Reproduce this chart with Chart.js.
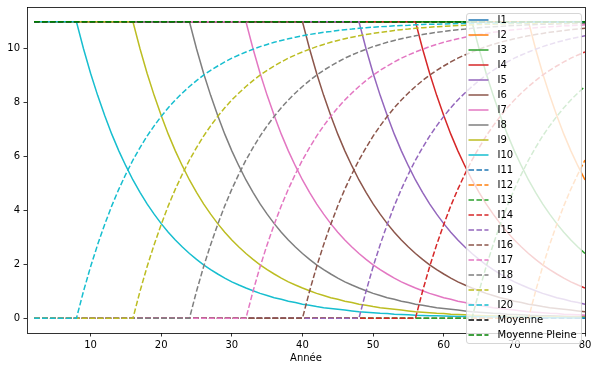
<!DOCTYPE html>
<html>
<head>
<meta charset="utf-8">
<script src="https://cdn.jsdelivr.net/npm/chart.js@4.4.0/dist/chart.umd.min.js"></script>
<style>
  html, body { margin: 0; padding: 0; background: #fff; }
  #wrap { width: 598px; height: 371px; }
</style>
</head>
<body>
<div id="wrap"><canvas id="chart" width="598" height="371"></canvas></div>
<script>
// Years on the x axis
const years = [2, 3, 4, 5, 6, 7, 8, 9, 10, 11, 12, 13, 14, 15, 16, 17, 18, 19, 20, 21,
  22, 23, 24, 25, 26, 27, 28, 29, 30, 31, 32, 33, 34, 35, 36, 37, 38, 39, 40, 41,
  42, 43, 44, 45, 46, 47, 48, 49, 50, 51, 52, 53, 54, 55, 56, 57, 58, 59, 60, 61,
  62, 63, 64, 65, 66, 67, 68, 69, 70, 71, 72, 73, 74, 75, 76, 77, 78, 79, 80];

// Year at which each curve leaves its plateau (I1..I10, and I11..I20)
const solidStarts = [80, 72, 64, 56, 48, 40, 32, 24, 16, 8];
const dashedStarts = [80, 72, 64, 56, 48, 40, 32, 24, 16, 8];

// Value, by number of years after the start
const decayProfile = [11.00, 10.00, 9.09, 8.27, 7.52, 6.83, 6.21, 5.65, 5.13, 4.67,
  4.24, 3.86, 3.51, 3.19, 2.90, 2.64, 2.40, 2.18, 1.98, 1.80,
  1.64, 1.49, 1.35, 1.23, 1.12, 1.02, 0.92, 0.84, 0.76, 0.70,
  0.63, 0.58, 0.52, 0.48, 0.43, 0.39, 0.36, 0.33, 0.30, 0.27,
  0.24, 0.22, 0.20, 0.18, 0.17, 0.15, 0.14, 0.13, 0.11, 0.10,
  0.09, 0.09, 0.08, 0.07, 0.06, 0.06, 0.05, 0.05, 0.04, 0.04,
  0.04, 0.03, 0.03, 0.03, 0.03, 0.02, 0.02, 0.02, 0.02, 0.02,
  0.01, 0.01, 0.01];
const riseProfile = [0.00, 1.00, 1.91, 2.73, 3.48, 4.17, 4.79, 5.35, 5.87, 6.33,
  6.76, 7.14, 7.49, 7.81, 8.10, 8.36, 8.60, 8.82, 9.02, 9.20,
  9.36, 9.51, 9.65, 9.77, 9.88, 9.98, 10.08, 10.16, 10.24, 10.31,
  10.37, 10.43, 10.48, 10.53, 10.57, 10.61, 10.64, 10.68, 10.71, 10.73,
  10.76, 10.78, 10.80, 10.82, 10.83, 10.85, 10.86, 10.87, 10.89, 10.90,
  10.91, 10.91, 10.92, 10.93, 10.94, 10.94, 10.95, 10.95, 10.96, 10.96,
  10.96, 10.97, 10.97, 10.97, 10.98, 10.98, 10.98, 10.98, 10.98, 10.98,
  10.99, 10.99, 10.99];

const plateauHigh = 11;
const plateauLow = 0;
const moyenne = [11, 11];
const moyennePleine = [11, 11];
const meanYears = [2, 80];

const xTicks = [10, 20, 30, 40, 50, 60, 70, 80];
const yTicks = [0, 2, 4, 6, 8, 10];

const palette = ['#1f77b4', '#ff7f0e', '#2ca02c', '#d62728', '#9467bd',
  '#8c564b', '#e377c2', '#7f7f7f', '#bcbd22', '#17becf'];
const dash = [5.55, 2.4];

function buildSeries(start, level, profile) {
  return years.map(yr => ({ x: yr, y: yr <= start ? level : profile[yr - start] }));
}

const datasets = [];
solidStarts.forEach((s, i) => {
  datasets.push({
    label: 'I' + (i + 1),
    data: buildSeries(s, plateauHigh, decayProfile),
    borderColor: palette[i],
    borderDash: []
  });
});
dashedStarts.forEach((s, i) => {
  datasets.push({
    label: 'I' + (i + 11),
    data: buildSeries(s, plateauLow, riseProfile),
    borderColor: palette[i],
    borderDash: dash
  });
});
datasets.push({
  label: 'Moyenne',
  data: meanYears.map((x, i) => ({ x, y: moyenne[i] })),
  borderColor: '#000000',
  borderDash: dash
});
datasets.push({
  label: 'Moyenne Pleine',
  data: meanYears.map((x, i) => ({ x, y: moyennePleine[i] })),
  borderColor: '#008000',
  borderDash: dash
});
// later series on top, like matplotlib
datasets.forEach((ds, i) => {
  ds.order = datasets.length - i;
  ds.borderWidth = 1.5;
  ds.pointRadius = 0;
  ds.fill = false;
  ds.tension = 0;
});

// frame around the plot area
const frame = {
  id: 'frame',
  afterDatasetsDraw(chart) {
    const { ctx, chartArea: a } = chart;
    ctx.save();
    ctx.strokeStyle = '#000';
    ctx.lineWidth = 0.8;
    ctx.setLineDash([]);
    ctx.strokeRect(Math.round(a.left) + 0.5, Math.round(a.top) + 0.5,
      Math.round(a.right - a.left), Math.round(a.bottom - a.top));
    ctx.restore();
  }
};

// legend floating over the upper right of the plot
const floatingLegend = {
  id: 'floatingLegend',
  afterDraw(chart) {
    const ctx = chart.ctx;
    const bx = 466, by = 13, bw = 115, bh = 330;
    ctx.save();
    ctx.beginPath();
    ctx.roundRect(bx + 0.5, by + 0.5, bw, bh, 2.5);
    ctx.fillStyle = 'rgba(255,255,255,0.8)';
    ctx.fill();
    ctx.strokeStyle = 'rgba(204,204,204,0.8)';
    ctx.lineWidth = 1;
    ctx.stroke();
    ctx.font = '10px "DejaVu Sans"';
    ctx.textBaseline = 'middle';
    ctx.textAlign = 'left';
    chart.data.datasets.forEach((ds, i) => {
      const y = 20 + i * 15;
      ctx.beginPath();
      ctx.setLineDash(ds.borderDash);
      ctx.strokeStyle = ds.borderColor;
      ctx.lineWidth = 1.5;
      ctx.moveTo(468.5, y);
      ctx.lineTo(488.5, y);
      ctx.stroke();
      ctx.setLineDash([]);
      ctx.fillStyle = '#000';
      ctx.fillText(ds.label, 497.5, y + 0.5);
    });
    ctx.restore();
  }
};

Chart.defaults.font.family = '"DejaVu Sans", sans-serif';
Chart.defaults.font.size = 10;
Chart.defaults.color = '#000';

new Chart(document.getElementById('chart').getContext('2d'), {
  type: 'line',
  data: { datasets },
  options: {
    responsive: false,
    animation: false,
    events: [],
    layout: { padding: { left: 0, right: 13, top: 7, bottom: 0 } },
    plugins: {
      legend: { display: false },
      tooltip: { enabled: false }
    },
    scales: {
      x: {
        type: 'linear',
        min: 1,
        max: 80,
        afterBuildTicks: scale => { scale.ticks = xTicks.map(v => ({ value: v })); },
        afterFit: scale => {
          scale.height = 38;
          scale.paddingLeft = 0;
          scale.paddingRight = 0;
        },
        ticks: { padding: 3, maxRotation: 0, autoSkip: false },
        grid: { drawOnChartArea: false, drawTicks: true, tickLength: 3.5, color: '#000', lineWidth: 0.8 },
        border: { display: false },
        title: { display: true, text: 'Année', padding: { top: 0, bottom: 7 } }
      },
      y: {
        type: 'linear',
        min: -0.55,
        max: 11.55,
        afterBuildTicks: scale => { scale.ticks = yTicks.map(v => ({ value: v })); },
        afterFit: scale => {
          scale.width = 27;
          scale.paddingTop = 0;
          scale.paddingBottom = 0;
        },
        ticks: { padding: 3.5 },
        grid: { drawOnChartArea: false, drawTicks: true, tickLength: 3.5, color: '#000', lineWidth: 0.8 },
        border: { display: false }
      }
    }
  },
  plugins: [frame, floatingLegend]
});
</script>
</body>
</html>
